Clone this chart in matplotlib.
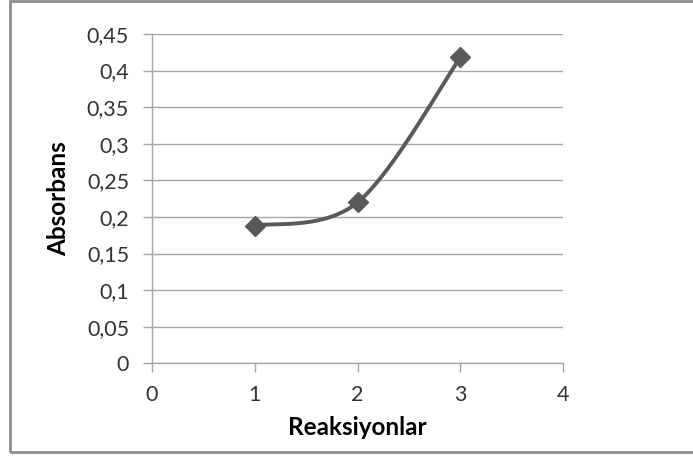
import numpy as np
import matplotlib
matplotlib.use("Agg")
import matplotlib.pyplot as plt
from matplotlib.patches import Rectangle
from matplotlib.ticker import FuncFormatter

# data
reaksiyon = [1, 2, 3]
absorbans = [0.188, 0.220, 0.418]
x_ticks = [0, 1, 2, 3, 4]
y_ticks = [0, 0.05, 0.1, 0.15, 0.2, 0.25, 0.3, 0.35, 0.4, 0.45]

plt.rcParams['font.family'] = ['Lato', 'DejaVu Sans']

line_col = "#595959"
grid_col = "#a6a6a6"
text_col = "#333333"


def excel_smooth(xs, ys, n=60):
    # excel style smoothed line (bezier through the points)
    p = np.column_stack([xs, ys]).astype(float)
    pts = np.vstack([p[0], p, p[-1]])
    out = []
    for i in range(1, len(pts) - 2):
        p0, p1, p2, p3 = pts[i - 1], pts[i], pts[i + 1], pts[i + 2]
        c1 = p1 + (p2 - p0) / 6
        c2 = p2 - (p3 - p1) / 6
        t = np.linspace(0, 1, n)[:, None]
        seg = ((1 - t) ** 3) * p1 + 3 * ((1 - t) ** 2) * t * c1 + 3 * (1 - t) * t ** 2 * c2 + t ** 3 * p2
        out.append(seg)
    out = np.vstack(out)
    return out[:, 0], out[:, 1]


fig = plt.figure(figsize=(6.93, 4.57), dpi=100)
ax = fig.add_axes([0.2193, 0.205, 0.5935, 0.7206])

sx, sy = excel_smooth(reaksiyon, absorbans)
ax.plot(sx, sy, color=line_col, linewidth=2.8, solid_capstyle="round", zorder=3)
ax.plot(reaksiyon, absorbans, linestyle="none", marker="D", markersize=10.5,
        color=line_col, zorder=4)

ax.set_xlim(0, 4)
ax.set_ylim(0, 0.45)
ax.set_xticks(x_ticks)
ax.set_yticks(y_ticks)
ax.yaxis.set_major_formatter(FuncFormatter(lambda v, pos: ("%g" % round(v, 2)).replace(".", ",")))

ax.grid(axis="y", color=grid_col, linewidth=1)
ax.set_axisbelow(True)
for s in ["top", "right"]:
    ax.spines[s].set_visible(False)
for s in ["left", "bottom"]:
    ax.spines[s].set_color(grid_col)
    ax.spines[s].set_linewidth(1)

ax.tick_params(axis="both", direction="out", length=6.5, width=1, color=grid_col,
               labelsize=15.5, labelcolor=text_col)
ax.tick_params(axis="y", pad=10)
ax.tick_params(axis="x", pad=9)

ax.set_xlabel("Reaksiyonlar", fontsize=17.5, fontweight="bold", color="black")
ax.set_ylabel("Absorbans", fontsize=17.5, fontweight="bold", color="black")
ax.xaxis.set_label_coords(0.5, -0.160)
ax.yaxis.set_label_coords(-0.200, 0.5)

# outer chart border
fig.patches.append(Rectangle((10 / 693, 5 / 457), 1.0, 451 / 457, transform=fig.transFigure,
                             fill=False, edgecolor="#8c8c8c", linewidth=2))

fig.savefig("out.png", dpi=100)
